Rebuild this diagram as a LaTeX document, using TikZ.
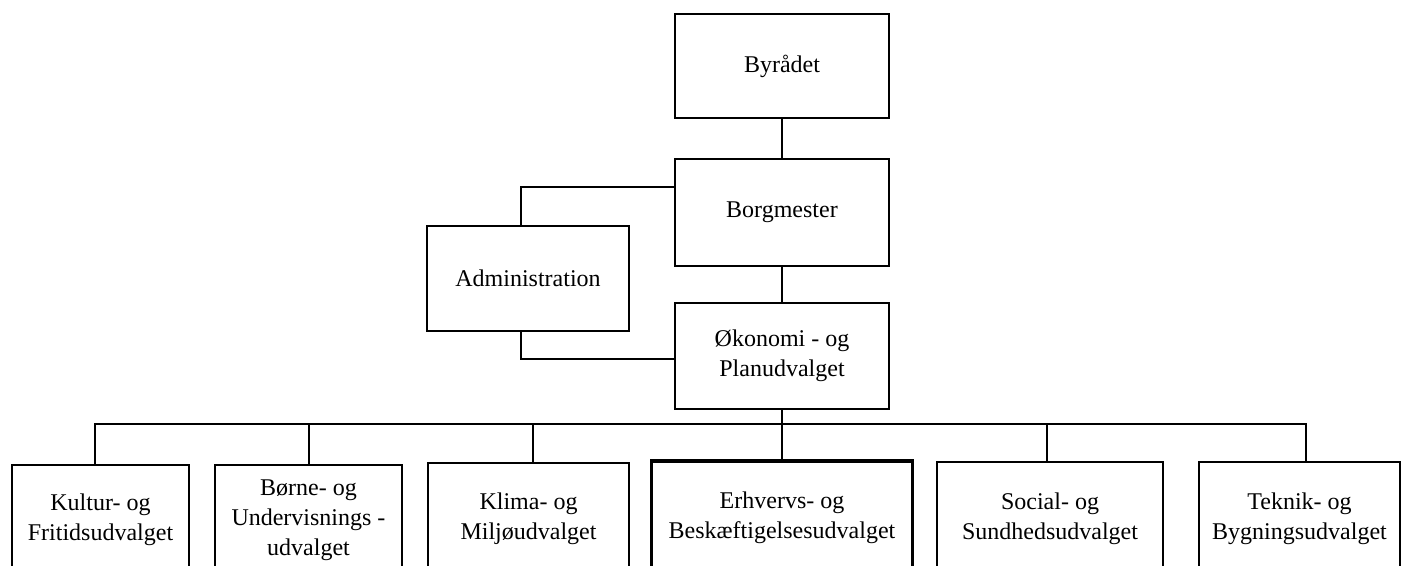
\documentclass[tikz,border=0pt]{standalone}
\usepackage{fontspec}
\setmainfont{Liberation Serif}
\begin{document}
\begin{tikzpicture}[x=0.5pt,y=-0.5pt,
  box/.style={draw, line width=1pt, align=center, inner sep=0pt,
    font=\fontsize{12}{15}\selectfont},
  link/.style={line width=1pt}]
\useasboundingbox (0,0) rectangle (1402,566);
\clip (0,0) rectangle (1402,566);
% upper boxes
\node[box, minimum width=107pt, minimum height=52pt] (byr) at (782,66) {Byrådet};
\node[box, minimum width=107pt, minimum height=53.5pt] (borg) at (782,212.5) {Borgmester};
\node[box, minimum width=101pt, minimum height=52.5pt] (adm) at (528,278.5) {Administration};
\node[box, minimum width=107pt, minimum height=53pt] (oek) at (782,356) {Økonomi - og\\Planudvalget};
% lower boxes (extend below the page edge)
\node[box, minimum width=88.5pt, minimum height=55pt] (kul) at (100.5,520) {Kultur- og\\Fritidsudvalget};
\node[box, minimum width=93.5pt, minimum height=55pt] (bor) at (308.5,520) {Børne- og\\Undervisnings -\\udvalget};
\node[box, minimum width=100.5pt, minimum height=56pt] (kli) at (528.5,519) {Klima- og\\Miljøudvalget};
\node[box, line width=1.6pt, minimum width=130.5pt, minimum height=57pt] (erh) at (782,518) {Erhvervs- og\\Beskæftigelsesudvalget};
\node[box, minimum width=113pt, minimum height=56.5pt] (soc) at (1050,518.5) {Social- og\\Sundhedsudvalget};
\node[box, minimum width=100.5pt, minimum height=56.5pt] (tek) at (1299.5,518.5) {Teknik- og\\Bygningsudvalget};
% connectors
\draw[link] (byr.south) -- (borg.north);
\draw[link] (borg.south) -- (oek.north);
\draw[link] ([xshift=-3.5pt]adm.north) |- ([yshift=12.75pt]borg.west);
\draw[link] ([xshift=-3.5pt]adm.south) |- ([yshift=-1.5pt]oek.west);
\coordinate (bus) at (782,424);
\draw[link] (oek.south) -- (bus);
\draw[link] ([xshift=-2.75pt]kul.north) |- (bus) -| ([xshift=3.25pt]tek.north);
\draw[link] (bus -| bor.north) -- (bor.north);
\draw[link] ([xshift=2.25pt]bus -| kli.north) -- ([xshift=2.25pt]kli.north);
\draw[link] (bus -| erh.north) -- (erh.north);
\draw[link] ([xshift=-1.5pt]bus -| soc.north) -- ([xshift=-1.5pt]soc.north);
\end{tikzpicture}
\end{document}
